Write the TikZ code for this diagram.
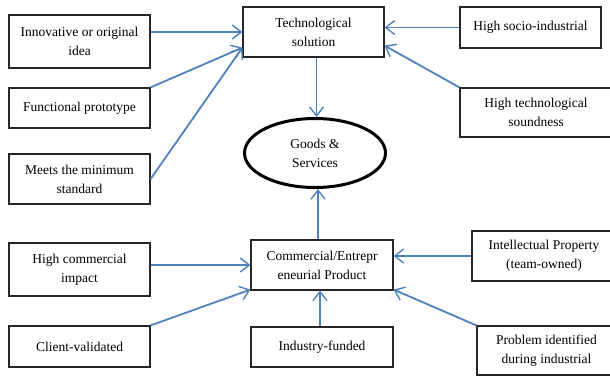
\documentclass[tikz,border=0pt]{standalone}
\usepackage{fontspec}
\setmainfont{Liberation Serif}
\usetikzlibrary{arrows.meta,positioning,shapes.geometric}

\definecolor{linkblue}{RGB}{79,129,189}
\tikzset{
    box/.style={draw=black!85, line width=1.2pt, align=center, inner sep=0pt,
        minimum width=141pt, font=\fontsize{13.5}{19}\selectfont},
    link/.style={draw=linkblue, line width=1.8pt,
        -{Straight Barb[length=9pt,width=14pt,line width=1.4pt]}}
}

\begin{document}
\begin{tikzpicture}[x=1pt,y=-1pt]
\useasboundingbox (0,0) rectangle (610,376);

\node (tech) [box, minimum height=50pt] at (313.5,32) {Technological\\solution};
\node (inno) [box, minimum height=53pt] at (79.5,41.5) {Innovative or original\\idea};
\node (proto) [box, minimum height=40pt] at (79.5,108) {Functional prototype};
\node (meets) [box, minimum height=50pt] at (79.5,179) {Meets the minimum\\standard};
\node (socio) [box, minimum height=41pt] at (530.5,27.5) {High socio-industrial};
\node (sound) [box, minimum width=152pt, minimum height=49pt] at (536,112.5) {High technological\\soundness};

\node (goods) [ellipse, draw, line width=3pt, minimum width=141pt, minimum height=69pt,
    font=\fontsize{13.5}{19}\selectfont, align=center] at (315,153) {Goods \&\\Services};

\node (comm) [box, minimum width=142pt, minimum height=50pt] at (322,265) {Commercial/Entrepr\\eneurial Product};
\node (hcomm) [box, minimum height=53pt] at (79.5,269.5) {High commercial\\impact};
\node (client) [box, minimum height=41pt] at (79.5,346.5) {Client-validated};
\node (indus) [box, minimum width=142pt, minimum height=40pt] at (322,347) {Industry-funded};
\node (ip) [box, minimum width=144pt, minimum height=50pt] at (544,256) {Intellectual Property\\(team-owned)};
\node (prob) [box, minimum width=139pt, minimum height=49pt] at (546.5,350.5) {Problem identified\\during industrial};

\draw [link] (inno.east |- tech.west) -- (tech.west);
\draw [link] (proto.north east) -- ([yshift=10pt]tech.south west);
\draw [link] (meets.east) -- ([yshift=10pt]tech.south west);
\draw [link] (socio.west) -- (tech.east |- socio.west);
\draw [link] (sound.north west) -- ([yshift=12pt]tech.south east);
\draw [link] ([xshift=3pt]tech.south) -- ([xshift=3pt]tech.south |- goods.north);

\draw [link] ([xshift=3pt]comm.north -| goods.south) -- ([xshift=3pt]goods.south);
\draw [link] (hcomm.east |- comm.west) -- (comm.west);
\draw [link] (client.north east) -- ([yshift=1pt]comm.south west);
\draw [link] ([xshift=-2pt]indus.north) -- ([xshift=-2pt]comm.south);
\draw [link] (ip.west) -- (comm.east |- ip.west);
\draw [link] (prob.north west) -- ([yshift=1pt]comm.south east);

\end{tikzpicture}
\end{document}
